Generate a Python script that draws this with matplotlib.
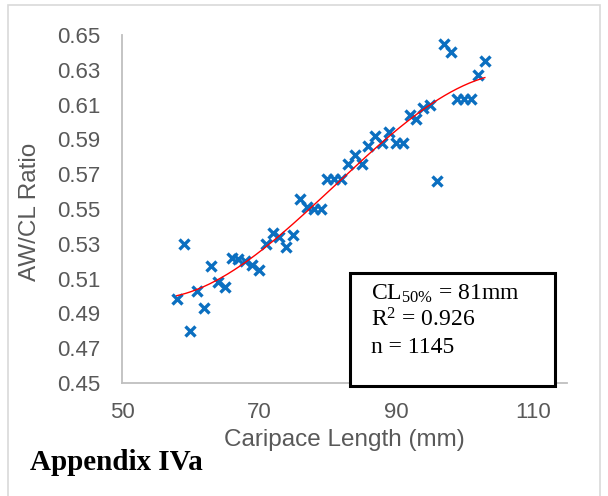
import numpy as np
import matplotlib
matplotlib.use("Agg")
import matplotlib.pyplot as plt
from matplotlib.patches import Rectangle

# Data
carapace_length = list(range(58, 104))
aw_cl_ratio = [0.498, 0.530, 0.480, 0.503, 0.493, 0.517, 0.508, 0.505, 0.522, 0.521,
               0.520, 0.518, 0.515, 0.530, 0.536, 0.534, 0.528, 0.535, 0.556, 0.551,
               0.550, 0.550, 0.567, 0.567, 0.567, 0.576, 0.581, 0.576, 0.586, 0.592,
               0.588, 0.594, 0.588, 0.588, 0.604, 0.602, 0.608, 0.610, 0.566, 0.645,
               0.640, 0.613, 0.613, 0.613, 0.627, 0.635]
x_ticks = [50, 70, 90, 110]
y_ticks = [0.45, 0.47, 0.49, 0.51, 0.53, 0.55, 0.57, 0.59, 0.61, 0.63, 0.65]
stats_lines = ["CL$_{50\\%}$ = 81mm", "R$^2$ = 0.926", "n = 1145"]

plt.rcParams['font.family'] = ['Liberation Sans', 'DejaVu Sans']
plt.rcParams['mathtext.default'] = 'regular'

W, H = 608, 496
fig = plt.figure(figsize=(W / 100, H / 100), dpi=100)
ax = fig.add_axes([122 / W, 1 - 383 / H, (567 - 122) / W, (383 - 35) / H])

# outer light frame
fig.patches.append(Rectangle((8 / W, -0.05), (600 - 8) / W, 1 - 5 / H + 0.05,
                             transform=fig.transFigure, fill=False,
                             edgecolor='#D9D9D9', linewidth=1.2, zorder=0))

ax.plot(carapace_length, aw_cl_ratio, linestyle='none', marker='x',
        markersize=6.5, markeredgewidth=2.4, color='#0B6FC0', zorder=3)

coef = np.polyfit(carapace_length, aw_cl_ratio, 3)
xs = np.linspace(min(carapace_length), max(carapace_length), 200)
ax.plot(xs, np.polyval(coef, xs), color='#FF0000', linewidth=1.0, zorder=4)

ax.set_xlim(50, 115)
ax.set_ylim(0.45, 0.65)
ax.set_xticks(x_ticks)
ax.set_yticks(y_ticks)
ax.set_yticklabels([f"{v:.2f}" for v in y_ticks])
ax.tick_params(length=0, labelsize=16, labelcolor='#595959')
ax.tick_params(axis='y', pad=15.5)
ax.tick_params(axis='x', pad=14)
for s in ['top', 'right']:
    ax.spines[s].set_visible(False)
for s in ['left', 'bottom']:
    ax.spines[s].set_color('#BFBFBF')
    ax.spines[s].set_linewidth(1.3)

ax.set_xlabel("Caripace Length (mm)", fontsize=17.5, color='#595959')
ax.set_ylabel("AW/CL Ratio", fontsize=17.5, color='#595959')
ax.xaxis.set_label_coords(0.5, (383 - 440) / 348)
ax.xaxis.label.set_verticalalignment('center')
ax.yaxis.set_label_coords((30 - 122) / 445, (383 - 212) / 348)
ax.yaxis.label.set_verticalalignment('center')

# stats box
fig.patches.append(Rectangle((350 / W, 1 - 386 / H), (555 - 350) / W, (386 - 273) / H,
                             transform=fig.transFigure, fill=True, facecolor='white',
                             edgecolor='black', linewidth=2.2, zorder=5))
for i, t in enumerate(stats_lines):
    fig.text(371 / W, 1 - (300 + 26.5 * i) / H, t, fontsize=17,
             family=['Liberation Serif'], color='black', va='baseline', ha='left', zorder=6)

fig.text(30 / W, 1 - 462 / H, "Appendix IVa", fontsize=21, fontweight='bold',
         family=['Liberation Serif'], color='black', va='center', ha='left')

fig.savefig("out.png", dpi=100, facecolor='white')
